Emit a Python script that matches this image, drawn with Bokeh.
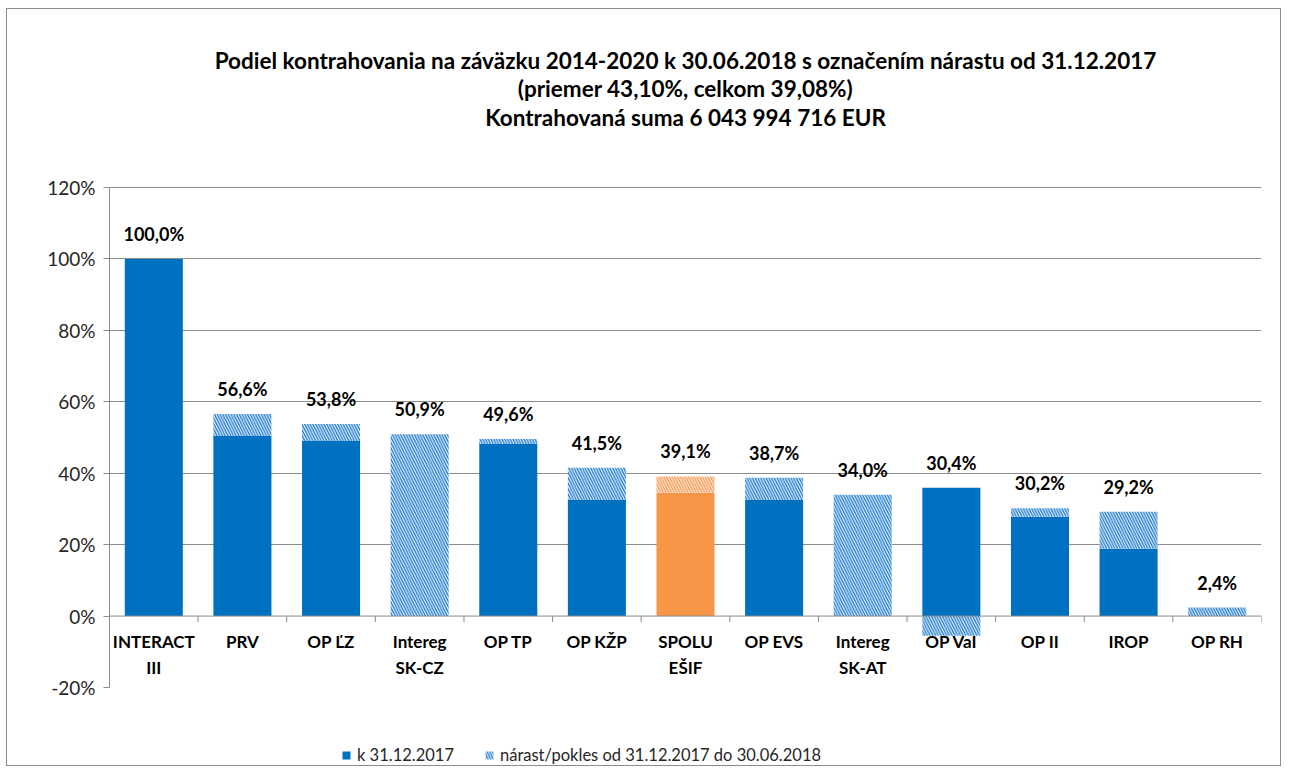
from bokeh.plotting import figure
from bokeh.models import (Range1d, FixedTicker, Span, Label, Legend, LegendItem,
                          ColumnDataSource)
from bokeh.core.properties import value
from bokeh.embed import file_html
from bokeh.resources import INLINE

# ---- data ----
categories = ["INTERACT\nIII", "PRV", "OP ĽZ", "Intereg\nSK-CZ", "OP TP", "OP KŽP",
              "SPOLU\nEŠIF", "OP EVS", "Intereg\nSK-AT", "OP VaI", "OP II", "IROP", "OP RH"]
base_2017 = [100.0, 50.4, 49.0, 0.0, 48.2, 32.5, 34.5, 32.5, 0.0, 35.9, 27.8, 18.9, 0.0]
total_2018 = [100.0, 56.6, 53.8, 50.9, 49.6, 41.5, 39.1, 38.7, 34.0, 30.4, 30.2, 29.2, 2.4]
highlight = "SPOLU\nEŠIF"
y_ticks = [-20, 0, 20, 40, 60, 80, 100, 120]
title_lines = ["Podiel kontrahovania na záväzku 2014-2020 k 30.06.2018 s označením nárastu od 31.12.2017",
               "(priemer 43,10%, celkom 39,08%)",
               "Kontrahovaná suma 6 043 994 716 EUR"]
legend_labels = ["k 31.12.2017", "nárast/pokles od 31.12.2017 do 30.06.2018"]

FONT = "Lato"
BLUE = "#0070C0"
ORANGE = "#F79646"
HATCH_BLUE = "#2A82D0"
HATCH_ORANGE = "#F7964E"
GRID = "#8C8C8C"

# ---- layout (pixels) ----
W, H = 1275, 758
LEFT, RIGHT = 102, 21
AXIS_TOP_PX, AXIS_BOT_PX = 178, 678          # canvas y of 120% and -20%
upp = (y_ticks[-1] - y_ticks[0]) / (AXIS_BOT_PX - AXIS_TOP_PX)   # data units per pixel
y_hi = y_ticks[-1] + AXIS_TOP_PX * upp
y_lo = y_ticks[0] - (H - AXIS_BOT_PX) * upp


def y_at(canvas_y):
    return y_ticks[-1] + (AXIS_TOP_PX - canvas_y) * upp


n = len(categories)
xs = list(range(n))
change = [t - b for t, b in zip(total_2018, base_2017)]
hatch_top = [t if c >= 0 else 0.0 for t, c in zip(total_2018, change)]
hatch_bottom = [b if c >= 0 else c for b, c in zip(base_2017, change)]
is_hl = [c == highlight for c in categories]
base_color = [ORANGE if h else BLUE for h in is_hl]
hatch_color = [HATCH_ORANGE if h else HATCH_BLUE for h in is_hl]
label_y = [max(b, t) for b, t in zip(base_2017, total_2018)]
label_txt = [f"{t:.1f}".replace(".", ",") + "%" for t in total_2018]

src = ColumnDataSource(dict(x=xs, cat=categories, base=base_2017, zero=[0.0] * n,
                            htop=hatch_top, hbot=hatch_bottom, bcol=base_color,
                            hcol=hatch_color, ly=label_y, lt=label_txt,
                            zy=[0.0] * n))

p = figure(width=W, height=H, x_range=Range1d(-0.5, n - 0.5),
           y_range=Range1d(y_lo, y_hi),
           output_backend="svg", toolbar_location=None,
           min_border_left=LEFT, min_border_right=RIGHT, min_border_top=0,
           min_border_bottom=0)
p.styles = {"border": "1.5px solid #8c8c8c", "margin-left": "6px", "margin-top": "8px"}
p.outline_line_color = None
p.background_fill_color = "white"
p.border_fill_color = "white"

# titles
title_y = [50.5, 78.5, 107.5]
for line, cy in zip(title_lines, title_y):
    p.add_layout(Label(x=(n - 1) / 2, y=y_at(cy), text=line, text_align="center",
                       text_baseline="middle", text_font=FONT, text_font_style="bold",
                       text_font_size="22.5px", text_color="#000000"))

# axes
p.xaxis.visible = False
p.xgrid.visible = False
p.yaxis.bounds = (y_ticks[0], y_ticks[-1])
p.yaxis.ticker = FixedTicker(ticks=y_ticks)
p.yaxis.major_label_overrides = {t: f"{t}%" for t in y_ticks}
p.yaxis.major_tick_in = 0
p.yaxis.major_tick_out = 6
p.yaxis.minor_tick_line_color = None
p.yaxis.axis_line_color = GRID
p.yaxis.major_tick_line_color = GRID
p.yaxis.major_label_text_font = FONT
p.yaxis.major_label_text_font_size = "19px"
p.yaxis.major_label_text_color = "#262626"
p.yaxis.major_label_standoff = 8
p.ygrid.ticker = FixedTicker(ticks=[t for t in y_ticks if t > 0])
p.ygrid.grid_line_color = GRID
p.ygrid.grid_line_width = 1

# bars
r_base = p.vbar(x="x", top="base", bottom="zero", width=0.655, source=src,
                fill_color="bcol", line_color=None)
r_hatch = p.vbar(x="x", top="htop", bottom="hbot", width=0.655, source=src,
                 fill_color="white", line_color=None, hatch_pattern="left_diagonal_line",
                 hatch_color="hcol", hatch_scale=5.5, hatch_weight=1.5)

# category axis at zero
p.add_layout(Span(location=0, dimension="width", line_color=GRID, line_width=1))
bounds = [i - 0.5 for i in range(n + 1)]
p.segment(x0=bounds, x1=bounds, y0=[0] * len(bounds), y1=[-6 * upp] * len(bounds),
          line_color=GRID, line_width=1)
p.text(x="x", y="zy", text="cat", source=src, text_align="center",
       text_baseline="top", y_offset=15, text_font=value(FONT),
       text_font_style="bold", text_font_size="17px", text_color="#000000",
       text_line_height=1.25)

# data labels
p.text(x="x", y="ly", text="lt", source=src, text_align="center",
       text_baseline="bottom", y_offset=-14, text_font=value(FONT),
       text_font_style="bold", text_font_size="18px", text_color="#000000")

legend = Legend(items=[LegendItem(label=legend_labels[0], renderers=[r_base], index=0),
                       LegendItem(label=legend_labels[1], renderers=[r_hatch], index=1)],
                orientation="horizontal", location=(232, 2),
                label_text_font=FONT, label_text_font_size="16.5px",
                label_text_color="#262626", glyph_width=10, glyph_height=10,
                spacing=30, border_line_color=None, background_fill_alpha=0,
                margin=0, padding=4, label_standoff=6)
p.add_layout(legend)

open("out.html", "w").write(file_html(p, INLINE))
